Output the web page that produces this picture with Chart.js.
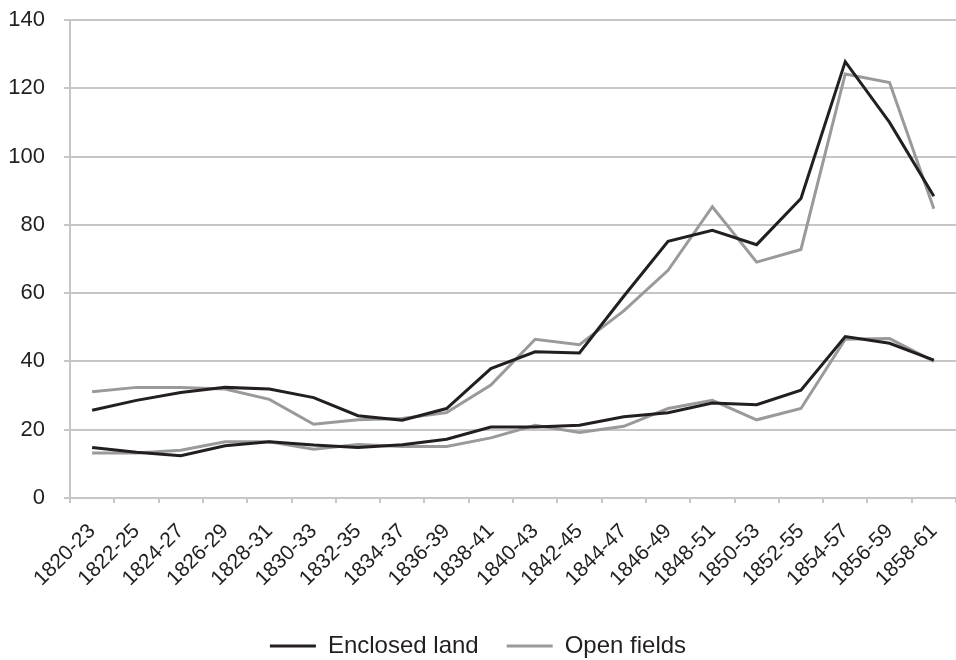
<!DOCTYPE html>
<html>
<head>
<meta charset="utf-8">
<script src="https://cdn.jsdelivr.net/npm/chart.js@4.4.1/dist/chart.umd.min.js"></script>
<style>
    html, body { margin: 0; padding: 0; background: #ffffff; }
    #wrap { width: 956px; height: 660px; position: relative; }
</style>
</head>
<body>
<div id="wrap"><canvas id="chart" width="956" height="660"></canvas></div>
<script>
const labels = [
    "1820-23", "1822-25", "1824-27", "1826-29", "1828-31", "1830-33", "1832-35",
    "1834-37", "1836-39", "1838-41", "1840-43", "1842-45", "1844-47", "1846-49",
    "1848-51", "1850-53", "1852-55", "1854-57", "1856-59", "1858-61",
];

// upper pair of series
const enclosedUpper = [25.7, 28.6, 30.9, 32.4, 31.9, 29.4, 24.1, 22.8, 26.2, 37.9, 42.8, 42.5, 59.1, 75.2, 78.4, 74.2, 87.7, 127.8, 110.0, 88.4];
const openUpper = [31.1, 32.4, 32.4, 31.9, 28.9, 21.6, 22.9, 23.3, 25.0, 33.1, 46.5, 44.9, 54.8, 66.7, 85.3, 69.1, 72.8, 124.2, 121.7, 84.7];

// lower pair of series
const enclosedLower = [14.8, 13.4, 12.4, 15.3, 16.5, 15.5, 14.8, 15.6, 17.2, 20.8, 20.8, 21.3, 23.8, 25.0, 27.8, 27.3, 31.6, 47.3, 45.3, 40.4];
const openLower = [13.2, 13.2, 14.0, 16.5, 16.5, 14.3, 15.7, 15.1, 15.1, 17.6, 21.3, 19.2, 21.0, 26.2, 28.6, 22.9, 26.2, 46.5, 46.7, 40.0];

const yTicks = [0, 20, 40, 60, 80, 100, 120, 140];

const COLORS = {
    enclosed: "#231f20",
    open: "#9a9a9a",
    grid: "#c6c6c8",
    text: "#231f20",
};

function lineDataset(label, data, color) {
    return {
        label,
        data,
        borderColor: color,
        backgroundColor: color,
        borderWidth: 3,
        pointRadius: 0,
        pointHoverRadius: 0,
        fill: false,
        tension: 0,
    };
}

const datasets = [
    lineDataset("Enclosed land", enclosedUpper, COLORS.enclosed),
    lineDataset("Open fields", openUpper, COLORS.open),
    lineDataset("Enclosed land", enclosedLower, COLORS.enclosed),
    lineDataset("Open fields", openLower, COLORS.open),
];

const ctx = document.getElementById("chart").getContext("2d");

new Chart(ctx, {
    type: "line",
    data: { labels, datasets },
    options: {
        responsive: false,
        maintainAspectRatio: false,
        animation: false,
        layout: { padding: { top: 20, right: 0, bottom: -8, left: 0 } },
        plugins: {
            tooltip: { enabled: false },
            legend: {
                position: "bottom",
                labels: {
                    font: { family: "'Liberation Sans', Arial, sans-serif", size: 24 },
                    color: COLORS.text,
                    boxWidth: 46,
                    boxHeight: 3,
                    padding: 28,
                    generateLabels: (chart) =>
                        chart.data.datasets.slice(0, 2).map((ds, i) => ({
                            text: ds.label,
                            fillStyle: ds.borderColor,
                            strokeStyle: ds.borderColor,
                            lineWidth: 0,
                            fontColor: COLORS.text,
                            hidden: false,
                            datasetIndex: i,
                        })),
                },
            },
        },
        scales: {
            x: {
                offset: true,
                grid: {
                    offset: true,
                    drawOnChartArea: false,
                    drawTicks: true,
                    tickLength: 5,
                    color: COLORS.grid,
                    lineWidth: 2,
                },
                border: { display: false },
                ticks: {
                    autoSkip: false,
                    maxRotation: 45,
                    minRotation: 45,
                    padding: 16,
                    color: COLORS.text,
                    font: { family: "'Liberation Sans', Arial, sans-serif", size: 21 },
                },
                afterFit: (scale) => {
                    scale.height = 108;
                    scale.paddingRight = 0;
                },
            },
            y: {
                min: 0,
                max: 140,
                afterBuildTicks: (scale) => {
                    scale.ticks = yTicks.map((v) => ({ value: v }));
                },
                grid: {
                    color: COLORS.grid,
                    lineWidth: 2,
                    tickLength: 6,
                },
                border: { color: COLORS.grid, width: 2 },
                ticks: {
                    padding: 19,
                    color: COLORS.text,
                    font: { family: "'Liberation Sans', Arial, sans-serif", size: 22 },
                },
                afterFit: (scale) => {
                    scale.width = 70;
                    scale.paddingTop = 0;
                },
            },
        },
    },
});
</script>
</body>
</html>
